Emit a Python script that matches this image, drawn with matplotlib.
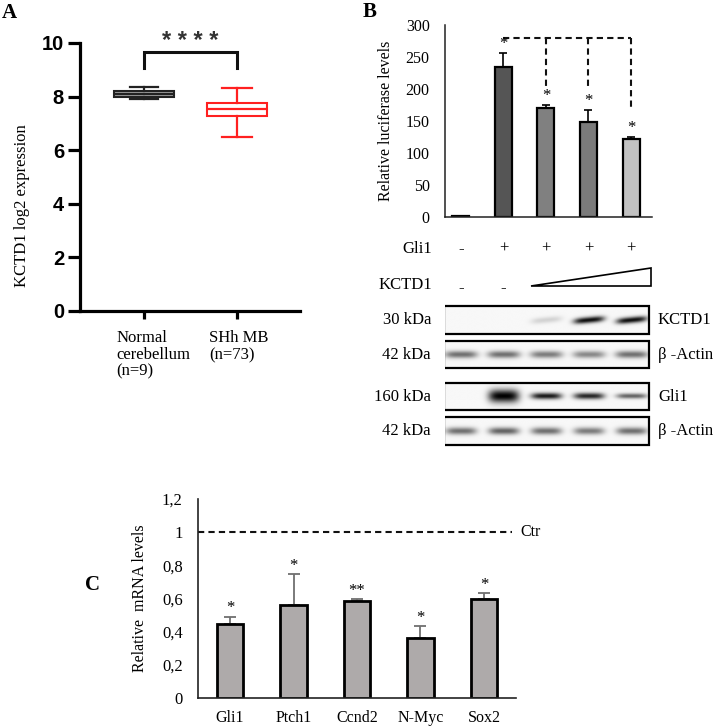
import numpy as np
import matplotlib
matplotlib.use("Agg")
import matplotlib.pyplot as plt
from matplotlib.patches import Rectangle, Polygon

plt.rcParams['font.family'] = ['Liberation Serif', 'DejaVu Serif']

W, H = 714, 726

# ---------------- Panel A data ----------------
a_groups = ['Normal\ncerebellum\n(n=9)', 'SHh MB\n(n=73)']
a_whislo = [7.90, 6.50]
a_q1 = [7.98, 7.28]
a_med = [8.08, 7.53]
a_q3 = [8.20, 7.75]
a_whishi = [8.37, 8.31]
a_yticks = [0, 2, 4, 6, 8, 10]
a_sig = '****'

# ---------------- Panel B data ----------------
b_values = [1, 234, 170, 148, 122]
b_err = [0, 22, 5, 19, 3]
b_sig = ['', '*', '*', '*', '*']
b_bracket_top = 280
b_bracket_ends = [200, 200, 170]
b_yticks = [0, 50, 100, 150, 200, 250, 300]
gli1_signs = ['-', '+', '+', '+', '+']
kctd1_signs = ['-', '-']
kctd1_band = [0.0, 0.0, 0.15, 0.95, 0.95]
actin_band1 = [0.55, 0.55, 0.5, 0.45, 0.55]
gli1_band = [0.0, 1.0, 0.9, 0.85, 0.6]
actin_band2 = [0.55, 0.6, 0.55, 0.5, 0.55]
blot_kda = ['30 kDa', '42 kDa', '160 kDa', '42 kDa']
blot_names = ['KCTD1', 'β -Actin', 'Gli1', 'β -Actin']

# ---------------- Panel C data ----------------
c_genes = ['Gli1', 'Ptch1', 'Ccnd2', 'N-Myc', 'Sox2']
c_values = [0.446, 0.56, 0.586, 0.36, 0.60]
c_err = [0.044, 0.185, 0.011, 0.074, 0.034]
c_sig = ['*', '*', '**', '*', '*']
c_ctr = 1.0
c_yticks = [0, 0.2, 0.4, 0.6, 0.8, 1.0, 1.2]
c_yticklabels = ['0', '0,2', '0,4', '0,6', '0,8', '1', '1,2']

fig = plt.figure(figsize=(W / 100, H / 100), dpi=100)
fig.patch.set_facecolor('white')


def px_axes(x0, y0, x1, y1):
    return fig.add_axes([x0 / W, 1 - y1 / H, (x1 - x0) / W, (y1 - y0) / H])


def ftext(x, y, s, **kw):
    return fig.text(x / W, 1 - y / H, s, **kw)


# ================= Panel A =================
axA = px_axes(80, 43, 300, 311)
statsA = []
for i in range(2):
    statsA.append(dict(med=a_med[i], q1=a_q1[i], q3=a_q3[i],
                       whislo=a_whislo[i], whishi=a_whishi[i], fliers=[]))
axA.bxp([statsA[0]], positions=[1], widths=0.645, patch_artist=True,
        showfliers=False, capwidths=[0.3],
        boxprops=dict(facecolor='#9a9a9a', edgecolor='#222222', lw=1.5),
        whiskerprops=dict(color='#222222', lw=1.6),
        capprops=dict(color='#222222', lw=1.6),
        medianprops=dict(color='#222222', lw=1.5))
axA.bxp([statsA[1]], positions=[2], widths=0.645, patch_artist=True,
        showfliers=False, capwidths=[0.32],
        boxprops=dict(facecolor='white', edgecolor='#ff2020', lw=1.5),
        whiskerprops=dict(color='#ff2020', lw=1.6),
        capprops=dict(color='#ff2020', lw=1.6),
        medianprops=dict(color='#ff2020', lw=1.6))
axA.set_xlim(0.312, 2.677)
axA.set_ylim(0, 10)
axA.spines['top'].set_visible(False)
axA.spines['right'].set_visible(False)
for s in ['left', 'bottom']:
    axA.spines[s].set_linewidth(2.3)
    axA.spines[s].set_color('black')
axA.set_yticks(a_yticks)
axA.set_yticklabels([str(t) for t in a_yticks], family='Liberation Sans',
                    fontweight='bold', fontsize=14.5)
axA.tick_params(axis='y', length=8.5, width=2.3, pad=3)
axA.set_xticks([1, 2])
axA.set_xticklabels(['', ''])
axA.tick_params(axis='x', length=6, width=2.3)
for i, g in enumerate(a_groups):
    axA.annotate(g, xy=(i + 1, 0), xycoords=('data', 'axes fraction'),
                 xytext=(-20, -14), textcoords='offset points',
                 ha='left', va='top', fontsize=12, linespacing=1.05)
# significance bracket
axA.plot([1, 1, 2, 2], [9.05, 9.65, 9.65, 9.05], color='#111111', lw=2.2,
         clip_on=False, solid_joinstyle='miter')
axA.text(1.5, 10.05, ' '.join(a_sig), ha='center', va='center', fontsize=17,
         family='Liberation Sans', fontweight='bold', color='#333333',
         clip_on=False)
ftext(22, 206, 'KCTD1 log2 expression', rotation=90, ha='center',
      va='center', fontsize=12)
ftext(2, 3, 'A', ha='left', va='top', fontsize=15, fontweight='bold')

# ================= Panel B =================
axB = px_axes(445, 25, 652, 217)
xb = np.arange(len(b_values))
b_colors = ['#444444', '#555555', '#808080', '#7b7b7b', '#c2c2c2']
axB.bar(xb, b_values, width=0.4, color=b_colors, edgecolor='black', lw=1.6,
        zorder=2)
axB.errorbar(xb, b_values, yerr=[np.zeros(len(b_err)), b_err], fmt='none',
             ecolor='black', elinewidth=1.2, capsize=3, capthick=1.2, zorder=1)
axB.set_xlim(-0.376, 4.494)
axB.set_ylim(0, 300)
axB.spines['top'].set_visible(False)
axB.spines['right'].set_visible(False)
for s in ['left', 'bottom']:
    axB.spines[s].set_linewidth(1.1)
    axB.spines[s].set_color('#222222')
axB.set_xticks([])
axB.set_yticks(b_yticks)
axB.set_yticklabels([str(t) for t in b_yticks], fontsize=11.5)
axB.tick_params(axis='y', length=0, pad=11)
for i, s in enumerate(b_sig):
    if s:
        axB.text(i, b_values[i] + b_err[i] + 14, s, ha='center', va='center',
                 fontsize=12, clip_on=False)
dash = (0, (3, 2))
axB.plot([1, 4], [b_bracket_top, b_bracket_top], color='#111111', lw=1.5,
         ls=dash, clip_on=False)
for j, yend in enumerate(b_bracket_ends):
    axB.plot([j + 2, j + 2], [b_bracket_top, yend], color='#111111', lw=1.5,
             ls=dash, clip_on=False)
ftext(386, 121, 'Relative luciferase levels', rotation=90, ha='center',
      va='center', fontsize=11.5)
ftext(363, 2, 'B', ha='left', va='top', fontsize=15, fontweight='bold')

# ---- conditions and western blots ----
axW = px_axes(445, 225, 652, 450)
axW.set_xlim(-0.376, 4.494)
axW.set_ylim(450, 225)
axW.axis('off')


def xd(px):
    return -0.376 + (px - 445) / (652 - 445) * (4.494 + 0.376)


for i, s in enumerate(gli1_signs):
    axW.text(i, 249, s, ha='center', va='center', fontsize=12)
for i, s in enumerate(kctd1_signs):
    axW.text(i, 288, s, ha='center', va='center', fontsize=12)
tri = Polygon([(xd(531), 286), (xd(651), 268), (xd(651), 286)], closed=True,
              facecolor='white', edgecolor='black', lw=1.2)
axW.add_patch(tri)
ftext(432, 249, 'Gli1', ha='right', va='center', fontsize=12)
ftext(432, 285, 'KCTD1', ha='right', va='center', fontsize=12)


def draw_blot(intens, y0, y1, sig, halfw, tilt=0.0):
    x0, x1 = xd(444), xd(649)
    xs = np.linspace(x0, x1, 500)
    ys = np.linspace(y0, y1, 80)
    X, Y = np.meshgrid(xs, ys)
    img = np.zeros_like(X)
    yc = (y0 + y1) / 2
    for i, v in enumerate(intens):
        s = sig[i] if np.iterable(sig) else sig
        yy = yc - tilt * (X - i)
        img += v * np.exp(-((X - i) / halfw) ** 4) * np.exp(-((Y - yy) / s) ** 2 / 2)
    img = np.clip(img, 0, 1)
    axW.imshow(img, cmap='gray_r', vmin=-0.03, vmax=1.0,
               extent=[x0, x1, y1, y0], aspect='auto',
               interpolation='bilinear', zorder=1)
    axW.add_patch(Rectangle((x0, y0), x1 - x0, y1 - y0, fill=False, lw=1.6,
                            ec='black', zorder=2))


draw_blot(kctd1_band, 306, 334, 2.2, 0.36, tilt=4)
draw_blot(actin_band1, 341, 368, 2.6, 0.38)
draw_blot(gli1_band, 383, 410, [2, 4.5, 2.2, 2.2, 1.8], 0.36)
draw_blot(actin_band2, 417, 445, 2.6, 0.36)
axW.set_xlim(-0.376, 4.494)
axW.set_ylim(450, 225)

for lab, name, yc in zip(blot_kda, blot_names, [320, 355, 397, 431]):
    ftext(431, yc, lab, ha='right', va='center', fontsize=12)
    ftext(658, yc, name, ha='left', va='center', fontsize=12)

# ================= Panel C =================
axC = px_axes(198, 499, 516, 698)
xc = np.arange(len(c_genes))
axC.bar(xc, c_values, width=0.41, color='#aeaaaa', edgecolor='black', lw=2,
        zorder=2)
axC.errorbar(xc, c_values, yerr=[np.zeros(len(c_err)), c_err], fmt='none',
             ecolor='#707070', elinewidth=1.3, capsize=4, capthick=1.3,
             zorder=1)
axC.set_xlim(-0.504, 4.504)
axC.set_ylim(0, 1.2)
axC.spines['top'].set_visible(False)
axC.spines['right'].set_visible(False)
for s in ['left', 'bottom']:
    axC.spines[s].set_linewidth(1.2)
    axC.spines[s].set_color('#222222')
axC.set_yticks(c_yticks)
axC.set_yticklabels(c_yticklabels, fontsize=12)
axC.tick_params(axis='y', length=0, pad=11)
axC.set_xticks(xc)
axC.set_xticklabels(c_genes, fontsize=11.5)
axC.tick_params(axis='x', length=0, pad=9)
for i, s in enumerate(c_sig):
    axC.text(i, c_values[i] + c_err[i] + 0.05, s, ha='center', va='center',
             fontsize=12, clip_on=False)
axC.plot([-0.504, 4.44], [c_ctr, c_ctr], color='#111111', lw=1.5, ls=dash,
         clip_on=False)
axC.text(4.57, c_ctr, 'Ctr', ha='left', va='center', fontsize=11.5,
         clip_on=False)
ftext(140, 598, 'Relative  mRNA levels', rotation=90, ha='center',
      va='center', fontsize=11.5)
ftext(85, 575, 'C', ha='left', va='top', fontsize=15, fontweight='bold')

fig.savefig('out.png', dpi=100, facecolor='white')
